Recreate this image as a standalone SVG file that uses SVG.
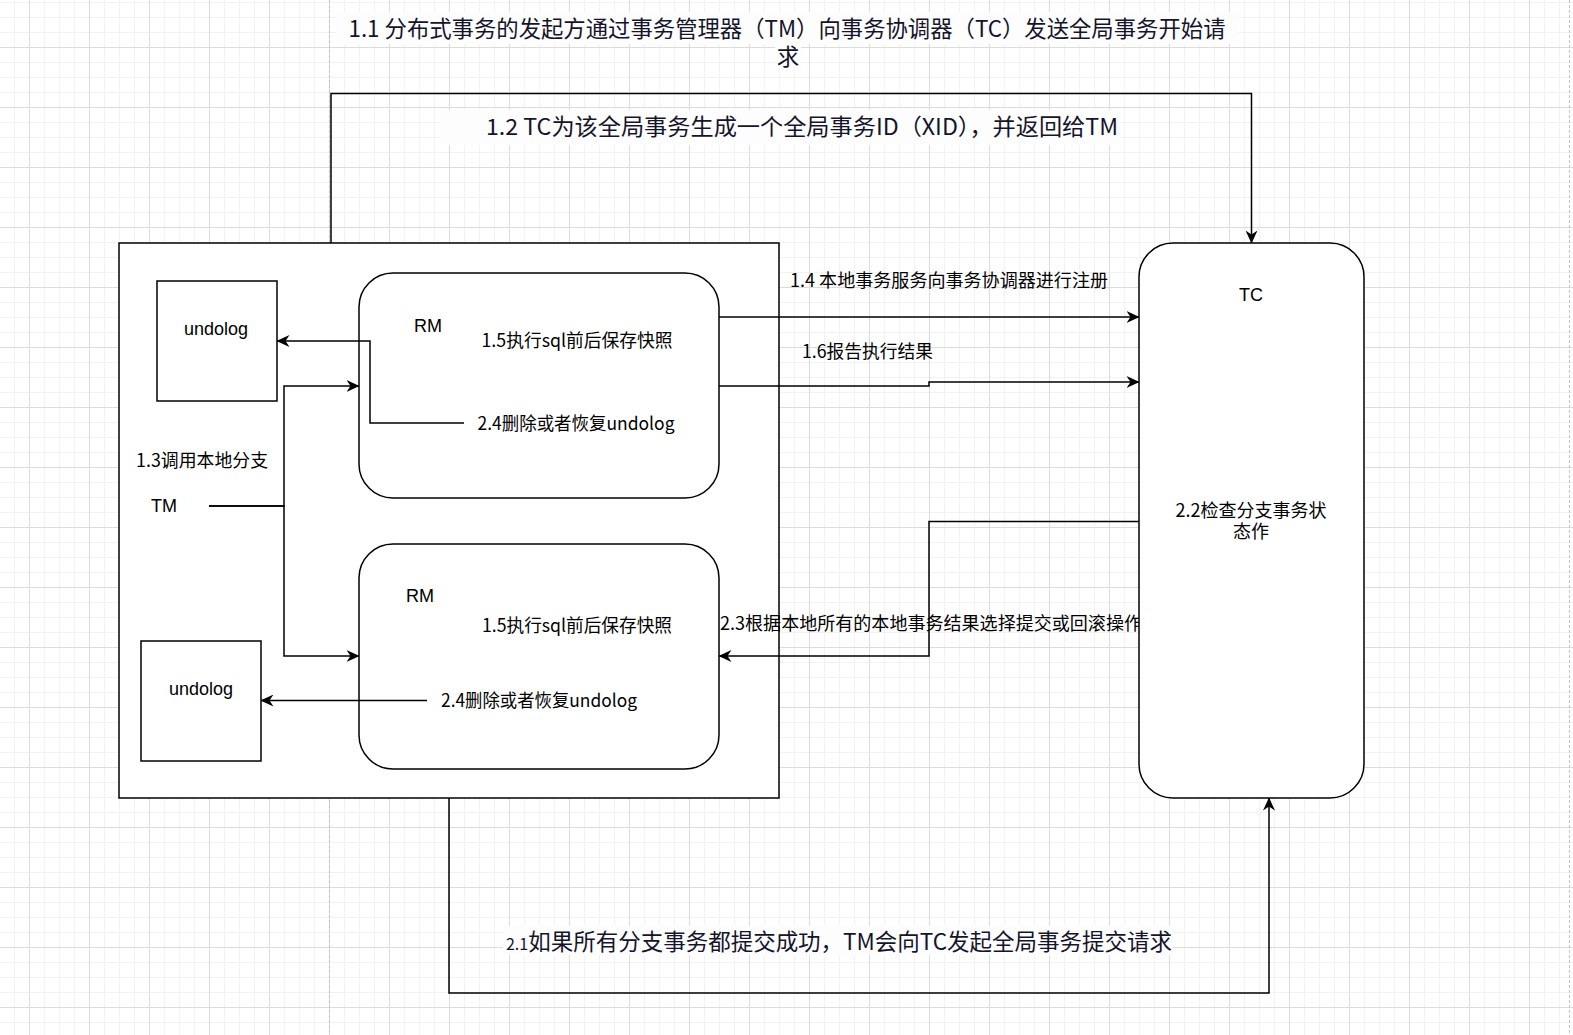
<svg xmlns="http://www.w3.org/2000/svg" width="1573" height="1035" viewBox="0 0 1573 1035">
<defs>
<pattern id="gMinor" x="14" y="2" width="15" height="15" patternUnits="userSpaceOnUse"><path d="M0.5 0V15M0 0.5H15" fill="none" stroke="#f2f2f2" stroke-width="1"/></pattern>
<pattern id="gMajor" x="29" y="47" width="60" height="60" patternUnits="userSpaceOnUse"><path d="M0.5 0V60M0 0.5H60" fill="none" stroke="#dcdcdc" stroke-width="1"/></pattern>
<marker id="arrow" markerUnits="userSpaceOnUse" markerWidth="13" markerHeight="12" viewBox="0 0 13 12" refX="12.5" refY="6" orient="auto"><path d="M0 0L13 6L0 12L4 6Z" fill="#000"/></marker>
<style>
.box{fill:#fff;stroke:#000;stroke-width:1.5}
.edge{fill:none;stroke:#000;stroke-width:1.5;marker-end:url(#arrow)}
.cjk{font-family:"Noto Sans CJK SC","Microsoft YaHei",sans-serif;font-size:18px;fill:#000}
.lat{font-family:"Liberation Sans",Arial,sans-serif;font-size:18px;fill:#000}
.big{font-family:"Noto Sans CJK SC","Microsoft YaHei",sans-serif;font-size:22.5px;fill:#14142b}
.lbg{fill:#fdfdfd}
.pb{fill:none;stroke:#c4c4c4;stroke-width:1;stroke-dasharray:3 2}
</style>
</defs>
<g id="background">
<rect x="0" y="0" width="1573" height="1035" fill="#fff"/>
<rect x="0" y="0" width="1573" height="1035" fill="url(#gMinor)"/>
<rect x="0" y="0" width="1573" height="1035" fill="url(#gMajor)"/>
<path class="pb" d="M329.5 0V1035M1569.5 0V1035"/>
</g>
<g id="title-1-1">
<rect class="lbg" x="336" y="12" width="902" height="32"/>
<rect class="lbg" x="775" y="44" width="26" height="25"/>
<text class="big" x="787" y="37" text-anchor="middle" textLength="877" lengthAdjust="spacingAndGlyphs">1.1 分布式事务的发起方通过事务管理器（TM）向事务协调器（TC）发送全局事务开始请</text>
<text class="big" x="788" y="65" text-anchor="middle">求</text>
</g>
<g id="tm-service">
<rect class="box" x="119" y="243" width="660" height="555"/>
</g>
<g id="undolog-1">
<rect class="box" x="157" y="281" width="120" height="120"/>
<text class="lat" x="216" y="334.5" text-anchor="middle">undolog</text>
</g>
<g id="undolog-2">
<rect class="box" x="141" y="641" width="120" height="120"/>
<text class="lat" x="201" y="695" text-anchor="middle">undolog</text>
</g>
<g id="rm-1">
<rect class="box" x="359" y="273" width="360" height="225" rx="34" ry="34"/>
<text class="lat" x="414" y="331.5">RM</text>
<text class="cjk" x="481.5" y="346.5" textLength="191" lengthAdjust="spacingAndGlyphs">1.5执行sql前后保存快照</text>
</g>
<g id="rm-2">
<rect class="box" x="359" y="544" width="360" height="225" rx="34" ry="34"/>
<text class="lat" x="406" y="601.5">RM</text>
<text class="cjk" x="482" y="631.5" textLength="190" lengthAdjust="spacingAndGlyphs">1.5执行sql前后保存快照</text>
</g>
<g id="tm">
<text class="lat" x="151" y="511.5">TM</text>
</g>
<g id="connectors">
<path class="edge" d="M331 243V93.5H1251.5V243"/>
<path class="edge" d="M209 506H284V386H359"/>
<path class="edge" d="M209 506H284V656H359"/>
<path class="edge" d="M464 423H370V341H277"/>
<path class="edge" d="M427 700.5H261"/>
<path class="edge" d="M719 317H1139"/>
<path class="edge" d="M719 386H929V382H1139"/>
<path class="edge" d="M1139 521.5H929V656H719"/>
<path class="edge" d="M449 798V993H1269V798"/>
<rect class="lbg" x="440" y="110" width="680" height="35"/>
<text class="big" x="802" y="135" text-anchor="middle" textLength="632" lengthAdjust="spacingAndGlyphs">1.2 TC为该全局事务生成一个全局事务ID（XID），并返回给TM</text>
<text class="cjk" x="136" y="466.5" textLength="132" lengthAdjust="spacingAndGlyphs">1.3调用本地分支</text>
<text class="cjk" x="477.5" y="430" textLength="197" lengthAdjust="spacingAndGlyphs">2.4删除或者恢复undolog</text>
<text class="cjk" x="441" y="707" textLength="196" lengthAdjust="spacingAndGlyphs">2.4删除或者恢复undolog</text>
<text class="cjk" x="790" y="286.5" textLength="318" lengthAdjust="spacingAndGlyphs">1.4 本地事务服务向事务协调器进行注册</text>
<text class="cjk" x="802" y="358" textLength="131" lengthAdjust="spacingAndGlyphs">1.6报告执行结果</text>
<text class="cjk" x="720" y="629.5" textLength="422" lengthAdjust="spacingAndGlyphs">2.3根据本地所有的本地事务结果选择提交或回滚操作</text>
<rect class="lbg" x="503" y="926" width="670" height="29"/>
<text class="big" x="506" y="950" textLength="666" lengthAdjust="spacing"><tspan font-size="16">2.1</tspan>如果所有分支事务都提交成功，TM会向TC发起全局事务提交请求</text>
</g>
<g id="tc">
<rect class="box" x="1139" y="243" width="225" height="555" rx="34" ry="34"/>
<text class="lat" x="1251" y="300.5" text-anchor="middle">TC</text>
<text class="cjk" x="1251" y="516.5" text-anchor="middle">2.2检查分支事务状</text>
<text class="cjk" x="1251" y="537.5" text-anchor="middle">态作</text>
</g>
</svg>
